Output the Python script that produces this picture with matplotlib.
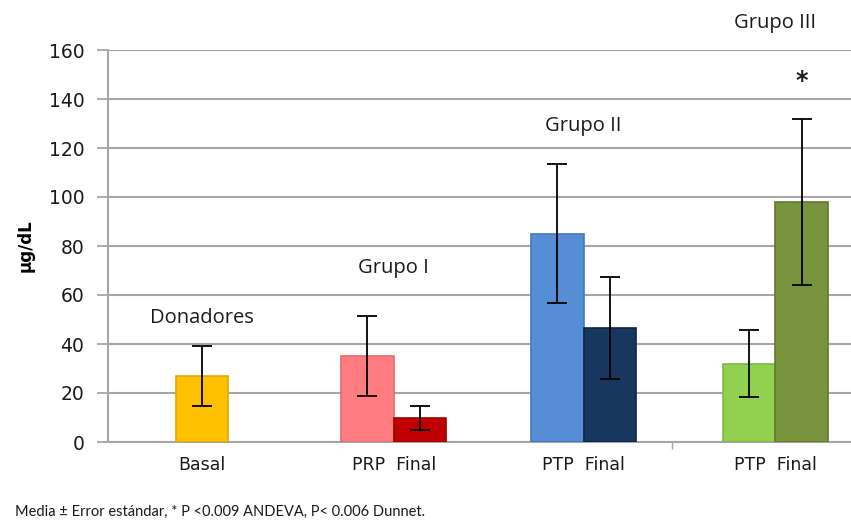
import matplotlib.pyplot as plt
import matplotlib as mpl

# mean and standard error per bar (µg/dL)
categories = ["Basal", "PRP  Final", "PTP  Final", "PTP  Final"]
group_names = ["Donadores", "Grupo I", "Grupo II", "Grupo III"]
bar_values = [27, 35, 9.7, 85, 46.5, 32, 98]
bar_errors = [12.3, 16.4, 4.8, 28.3, 20.8, 13.8, 34]
bar_colors = ["#FFC000", "#FF7C80", "#C00000", "#558ED5", "#17375E", "#92D050", "#77933C"]
edge_colors = ["#E0A800", "#E86A6E", "#9E0000", "#4478BE", "#0E2642", "#7DB83E", "#62792F"]
# category of each bar and its slot in that category (-1 left, 0 alone, 1 right)
bar_group = [0, 1, 1, 2, 2, 3, 3]
bar_slot = [0, -1, 1, -1, 1, -1, 1]
label_y = [50.5, 71, 129, 171]
star_y = 147.5

mpl.rcParams["font.family"] = ["DejaVu Sans"]


def main():
    fig = plt.figure(figsize=(8.51, 5.27), dpi=100)
    ax = fig.add_axes([108 / 851, 85 / 527, 752 / 851, 392 / 527])

    width = 0.28
    centers = [0, 1.02, 2.03, 3.05]
    xs = [centers[g] + s * width / 2 for g, s in zip(bar_group, bar_slot)]

    ax.bar(xs, bar_values, width=width, color=bar_colors, edgecolor=edge_colors,
           linewidth=1.2, zorder=3)
    ax.errorbar(xs, bar_values, yerr=bar_errors, fmt="none", ecolor="black",
                elinewidth=1.3, capsize=7, capthick=1.3, zorder=4)

    ax.set_xlim(-0.5, 3.5)
    ax.set_ylim(0, 160)
    ax.set_yticks(range(0, 161, 20))
    ax.yaxis.grid(True, color="#A6A6A6", linewidth=1.5, zorder=0)
    ax.set_axisbelow(True)

    ax.set_xticks(centers)
    ax.set_xticklabels(categories, fontsize=12.5, color="#1A1A1A")
    ax.tick_params(axis="x", length=0, pad=10)
    ax.set_xticks([2.5], minor=True)
    ax.tick_params(axis="x", which="minor", length=5, color="#A6A6A6", width=1)
    ax.tick_params(axis="y", length=8, width=1.3, color="#A6A6A6",
                   labelsize=13.5, labelcolor="#1A1A1A", pad=9)

    for side in ["top", "right"]:
        ax.spines[side].set_visible(False)
    for side in ["left", "bottom"]:
        ax.spines[side].set_color("#A6A6A6")
        ax.spines[side].set_linewidth(1.5)

    ax.set_ylabel("µg/dL", fontsize=12, fontweight="bold", labelpad=10)

    for c, name, y in zip(centers, group_names, label_y):
        ax.text(c, y, name, ha="center", va="center", fontsize=14.5,
                family="Open Sans", color="#1A1A1A", clip_on=False)

    ax.text(xs[-1], star_y, "*", ha="center", va="center", fontsize=17,
            fontweight="bold", color="#1A1A1A")

    fig.text(15 / 851, 1 - 512 / 527,
             "Media ± Error estándar, * P <0.009 ANDEVA, P< 0.006 Dunnet.",
             ha="left", va="center", fontsize=10.5, family="Lato", color="#1A1A1A")

    fig.savefig("out.png", dpi=100)


if __name__ == "__main__":
    main()
